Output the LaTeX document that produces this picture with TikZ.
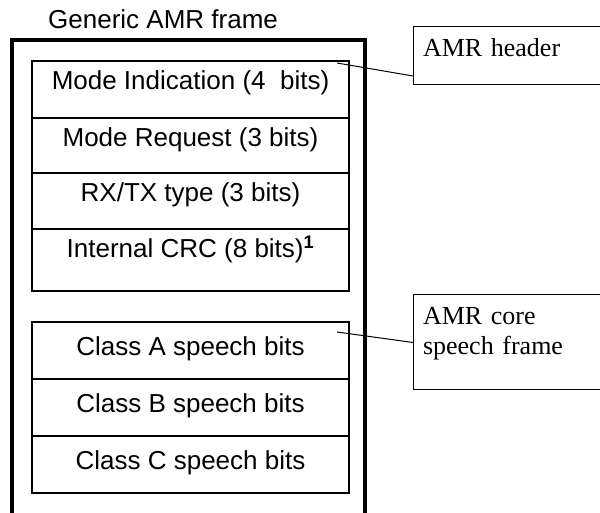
\documentclass[tikz,border=0pt]{standalone}
\usepackage{fontspec}
\setmainfont{Liberation Serif}
\newfontfamily\arialfont{Liberation Sans}
\usepackage{tikz}
\usetikzlibrary{positioning,calc}
\newcommand{\fieldfont}{\arialfont\fontsize{26}{30}\selectfont}
\newcommand{\notefont}{\fontsize{26}{30}\selectfont}
\tikzset{my field/.style={
  draw,
  line width=2pt,
  outer sep=0pt,
  inner sep=0pt,
  minimum width=317pt,
  text height=#1,
  font=\fieldfont
  },
  my field/.default=29pt
}
\tikzset{my note/.style={
  draw,
  line width=1pt,
  outer sep=0pt,
  inner sep=0pt,
  inner xsep=10pt,
  minimum width=230pt,
  text width=210pt,
  align=left,
  anchor=north west,
  font=\notefont
  }
}
\tikzset{my leader/.style={
  line width=1pt
  }
}

\begin{document}
\begin{tikzpicture}[x=1pt,y=1pt]
    \useasboundingbox (0,0) rectangle (600,513);
    \clip (0,0) rectangle (600,513);

    \node[anchor=base west,inner sep=0pt,font=\fieldfont] (title) at (48,484) {Generic AMR frame};
    \draw[line width=4pt] (11.5,-20) |- (364.5,473) -- (364.5,-20);

    \foreach \i/\y/\d [count=\n] in {{Mode Indication (4\ \ bits)}/423/28pt,{Mode Request (3 bits)}/366/26pt,{RX/TX type (3 bits)}/311/27pt,{Internal CRC (8 bits)\textsuperscript{\bfseries 1}}/255/33pt}
        \node[my field,text depth=\d,anchor=base](hdr\n) at (190.5,\y) {\i};

    \foreach \i/\y [count=\n] in {Class A speech bits/157,Class B speech bits/100,Class C speech bits/43}
        \node[my field=34pt,text depth=23pt,anchor=base](sp\n) at (190.5,\y) {\i};

    \node[my note,text height=30pt,text depth=28pt] at (413,486) (hdrnote) {AMR header};
    \node[my note,text height=30pt,text depth=65pt] at (413,218) (corenote) {AMR core\\speech frame};

    \coordinate (hdrtip) at ([xshift=-12pt,yshift=-2pt]hdr1.north east);
    \coordinate (sptip) at ([xshift=-12pt,yshift=-10pt]sp1.north east);
    \draw[my leader] (hdrtip) -- ([yshift=9pt]hdrnote.south west);
    \draw[my leader] (sptip) -- (corenote.west);

\end{tikzpicture}
\end{document}
